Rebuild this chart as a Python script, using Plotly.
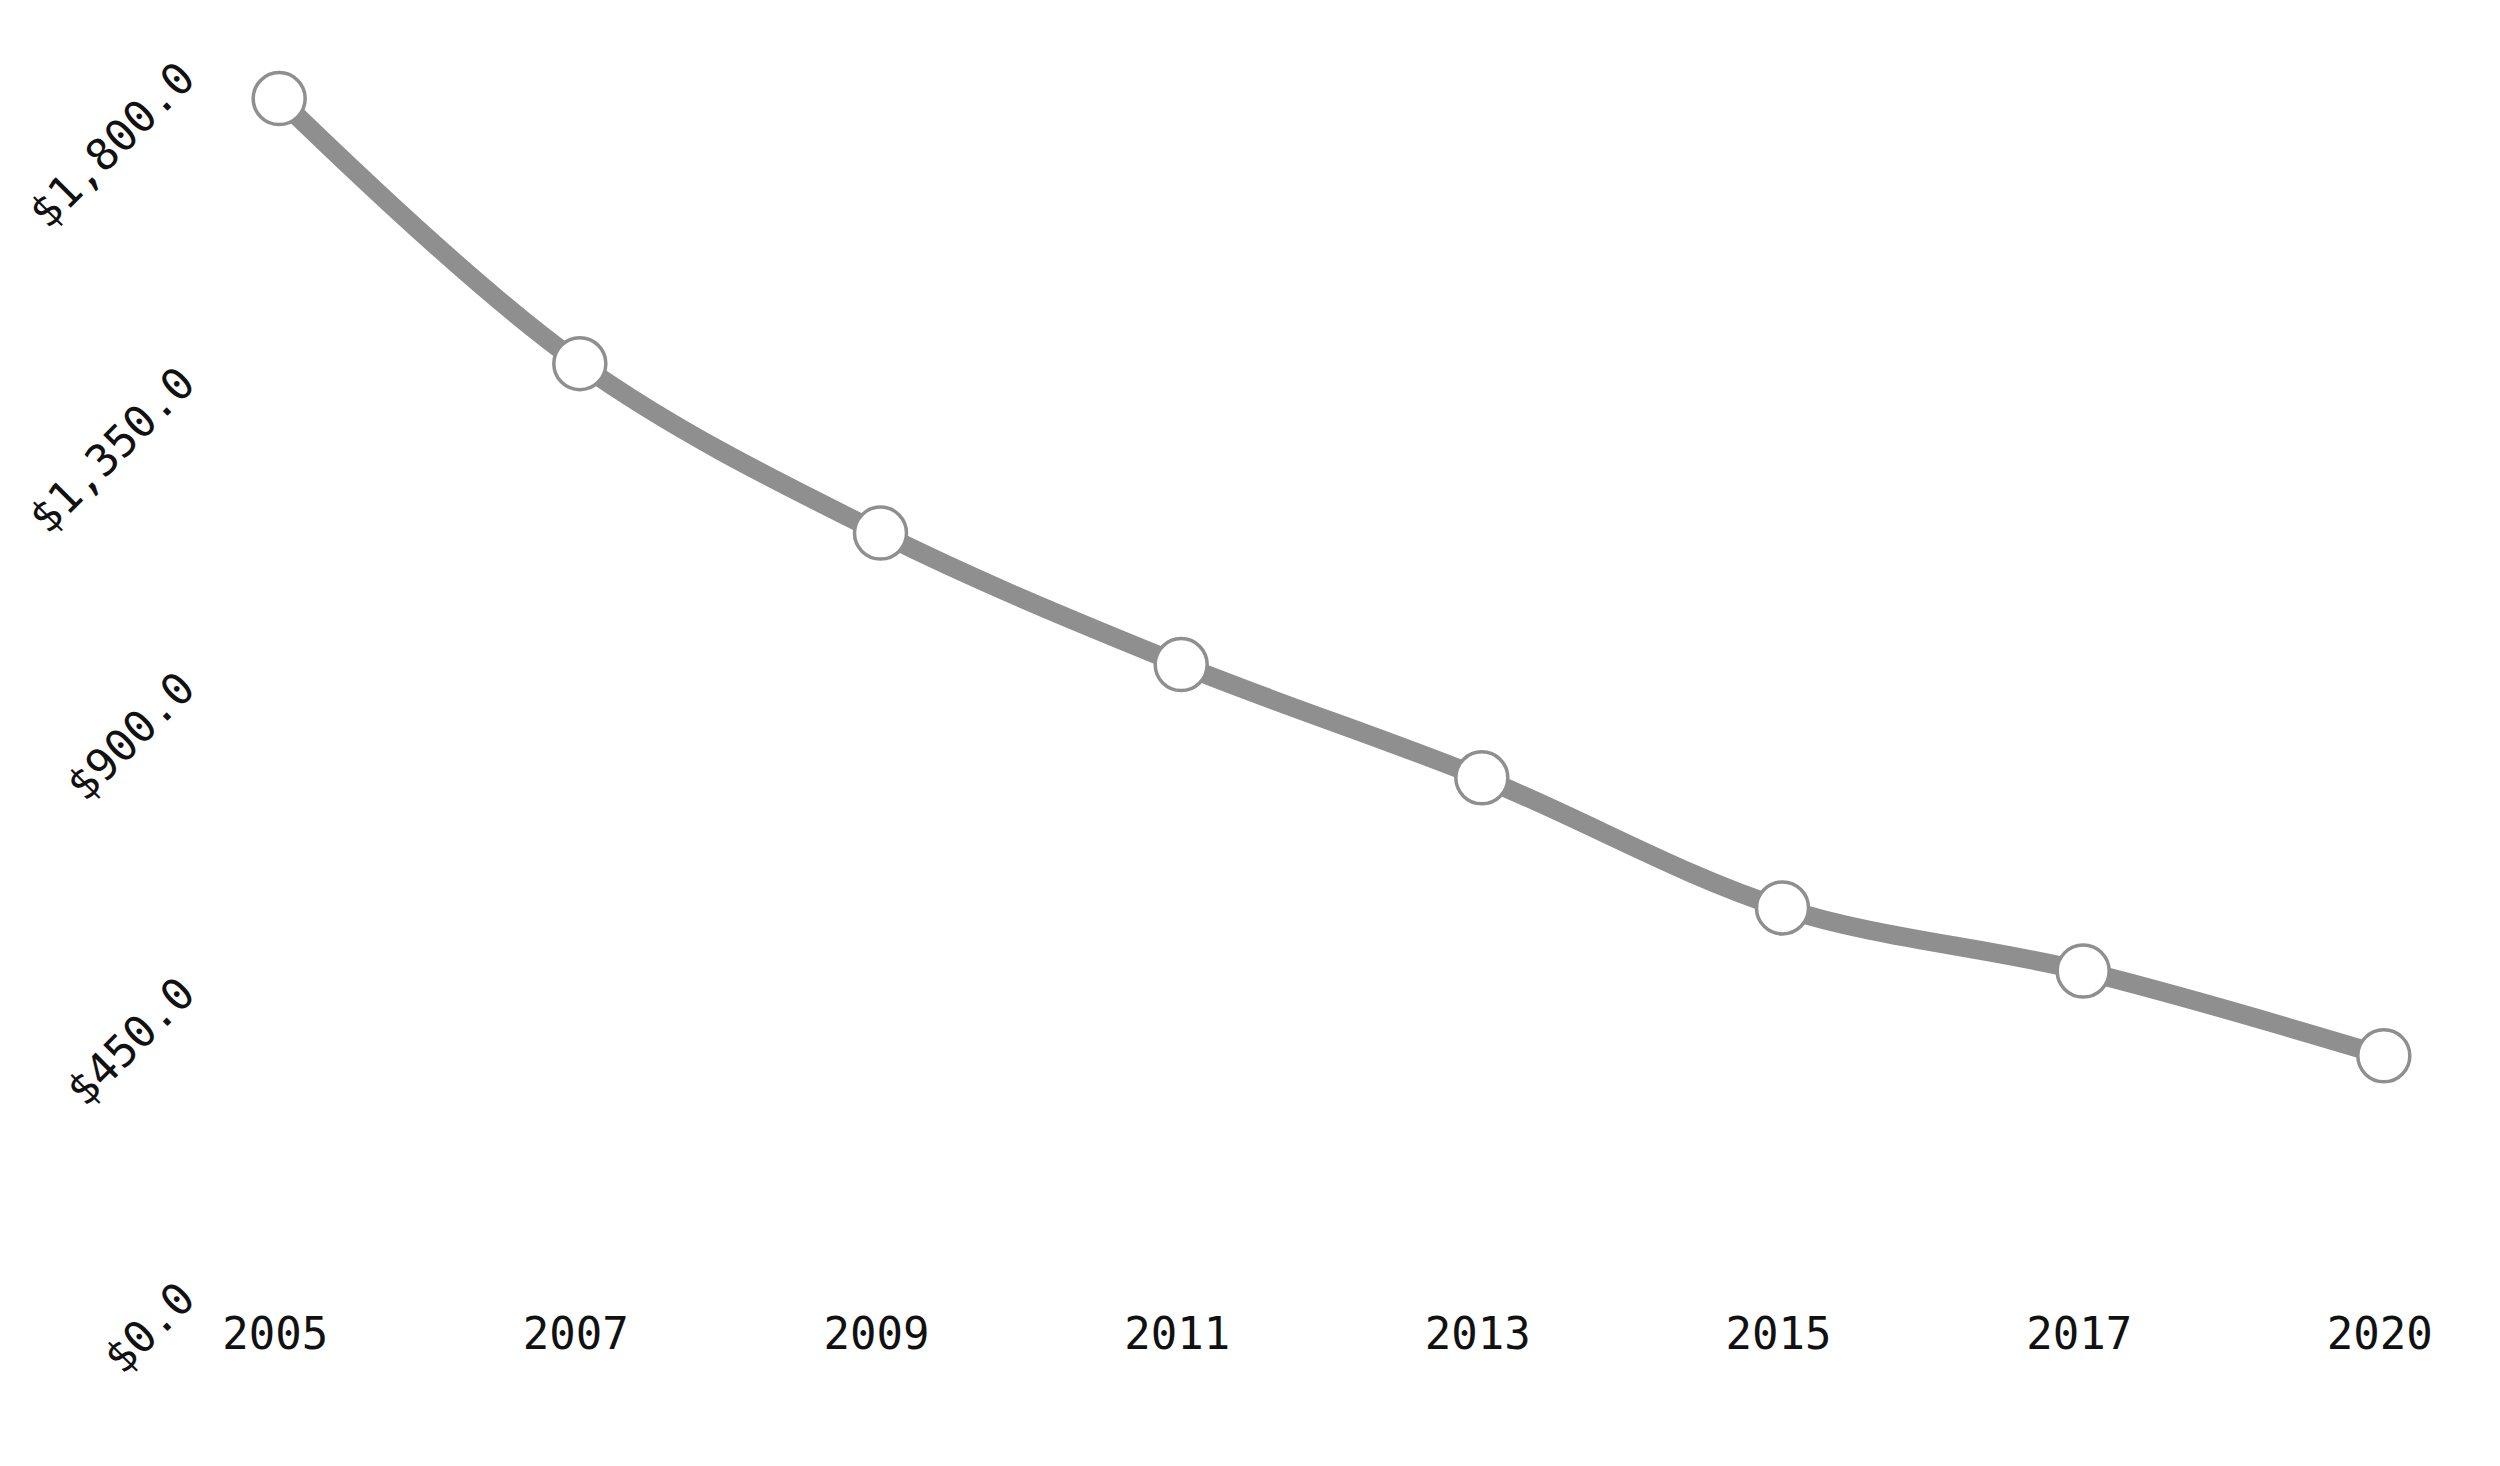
import plotly.graph_objects as go

years = ["2005", "2007", "2009", "2011", "2013", "2015", "2017", "2020"]
values = [1790, 1399, 1149, 955, 788, 596, 503, 378]
y_ticks = [0, 450, 900, 1350, 1800]

line_color = "#8f8f8f"

fig = go.Figure()
fig.add_trace(go.Scatter(
    x=years,
    y=values,
    mode="lines+markers",
    line=dict(color=line_color, width=19, shape="spline"),
    marker=dict(size=52, color="white", line=dict(color=line_color, width=3.5)),
    hoverinfo="x+y",
))

font_family = "DejaVu Sans Mono"
fig.update_layout(
    width=2500,
    height=1466,
    paper_bgcolor="white",
    plot_bgcolor="white",
    margin=dict(l=196, r=49, t=16, b=162),
    showlegend=False,
    font=dict(family=font_family, size=44, color="#111111"),
    xaxis=dict(
        type="category",
        range=[-0.25, 7.25],
        showgrid=False,
        zeroline=False,
        showline=False,
        ticks="",
        ticklabelstandoff=-8,
        ticklabelshift=-4,
        tickfont=dict(family=font_family, size=44, color="#111111"),
    ),
    yaxis=dict(
        range=[0, 1900],
        tickmode="array",
        tickvals=y_ticks,
        tickformat="$,.1f",
        tickangle=-45,
        showgrid=False,
        zeroline=False,
        showline=False,
        ticks="",
        ticklabelstandoff=21,
        ticklabelshift=-20,
        tickfont=dict(family=font_family, size=44, color="#111111"),
    ),
)

fig.write_html("out.html")
